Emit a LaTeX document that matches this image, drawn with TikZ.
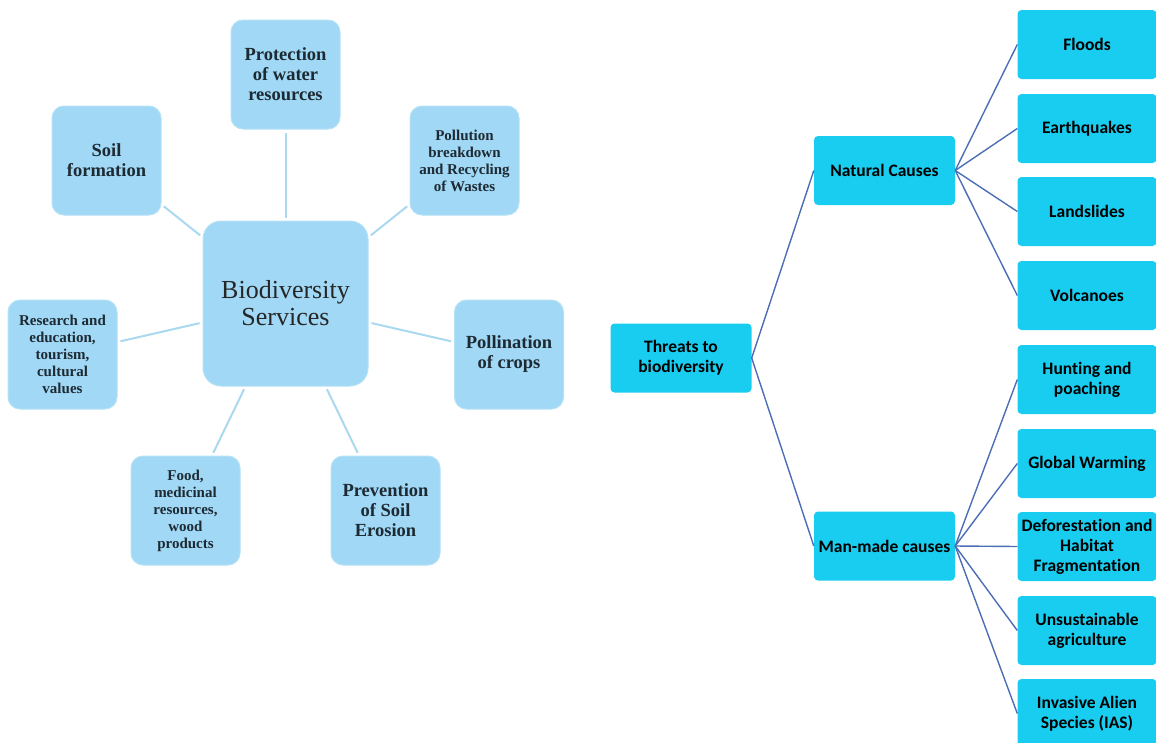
\documentclass[tikz,border=0pt]{standalone}
\usepackage{fontspec}
\setmainfont{Liberation Serif}
\newfontfamily\calibfont[Ligatures=NoCommon]{Carlito}
\definecolor{svcfill}{HTML}{A0D8F5}
\definecolor{svcedge}{HTML}{B6E2F7}
\definecolor{svclinecol}{HTML}{A9D8EF}
\definecolor{cyanfill}{HTML}{19CDF0}
\definecolor{twigblue}{HTML}{4D6DB5}
\definecolor{textdark}{HTML}{1E2A33}
\tikzset{
  svcbox/.style={rectangle, rounded corners=12pt, fill=svcfill, draw=svcedge, line width=1pt,
    minimum width=109pt, minimum height=109pt, inner sep=2pt, align=center, text=textdark,
    font=\bfseries\fontsize{18.5}{20}\selectfont},
  svcsmall/.style={svcbox, font=\bfseries\fontsize{15}{17}\selectfont},
  hubbox/.style={svcbox, minimum width=165pt, minimum height=165pt, rounded corners=18pt,
    text=black!85, font=\fontsize{26}{27}\selectfont},
  svcline/.style={draw=svclinecol, line width=2pt, shorten >=3pt, shorten <=3pt},
  causebox/.style={rectangle, rounded corners=4pt, fill=cyanfill, minimum width=141pt,
    minimum height=69pt, inner sep=1pt, align=center, text=black,
    font=\calibfont\bfseries\fontsize{17.5}{20}\selectfont},
  leafbox/.style={causebox, minimum width=139pt},
  twig/.style={draw=twigblue, line width=1.4pt}
}
\begin{document}
\begin{tikzpicture}[x=1pt,y=-1pt]
\useasboundingbox (0,0) rectangle (1156,742);
\clip (0,0) rectangle (1156,742);

% biodiversity services
\node[hubbox] (hub) at (285.5,303.5) {Biodiversity\\Services};
\node[svcbox] (water) at (285.5,74.5) {Protection\\of water\\resources};
\node[svcbox] (soil) at (106.5,160.5) {Soil\\formation};
\node[svcsmall] (waste) at (464.5,160.5) {Pollution\\breakdown\\and Recycling\\of Wastes};
\node[svcsmall] (research) at (62.5,354.5) {Research and\\education,\\tourism,\\cultural\\values};
\node[svcbox] (pollin) at (509,354.5) {Pollination\\of crops};
\node[svcsmall] (food) at (185.5,510.5) {Food,\\medicinal\\resources,\\wood\\products};
\node[svcbox] (erosion) at (385.5,510.5) {Prevention\\of Soil\\Erosion};
\draw[svcline] (hub) -- (water);
\draw[svcline] (hub) -- (soil);
\draw[svcline] (hub) -- (waste);
\draw[svcline] (hub) -- (research);
\draw[svcline] (hub) -- (pollin);
\draw[svcline] (hub) -- (food);
\draw[svcline] (hub) -- (erosion);

% threats to biodiversity
\node[causebox] (threats) at (681,358) {Threats to\\biodiversity};
\node[causebox] (natural) at (884.5,170.5) {Natural Causes};
\node[causebox] (manmade) at (884.5,546) {Man-made causes};
\node[leafbox] (floods) at (1087,44.5) {Floods};
\node[leafbox] (quakes) at (1087,128.5) {Earthquakes};
\node[leafbox] (slides) at (1087,211.5) {Landslides};
\node[leafbox] (volcano) at (1087,295.5) {Volcanoes};
\node[leafbox] (hunting) at (1087,379.5) {Hunting and\\poaching};
\node[leafbox] (warming) at (1087,463.5) {Global Warming};
\node[leafbox] (deforest) at (1087,546.5) {Deforestation and\\Habitat\\Fragmentation};
\node[leafbox] (agri) at (1087,630.5) {Unsustainable\\agriculture};
\node[leafbox] (invasive) at (1087,713.5) {Invasive Alien\\Species (IAS)};
\draw[twig] (threats.east) -- (natural.west);
\draw[twig] (threats.east) -- (manmade.west);
\draw[twig] (natural.east) -- (floods.west);
\draw[twig] (natural.east) -- (quakes.west);
\draw[twig] (natural.east) -- (slides.west);
\draw[twig] (natural.east) -- (volcano.west);
\draw[twig] (manmade.east) -- (hunting.west);
\draw[twig] (manmade.east) -- (warming.west);
\draw[twig] (manmade.east) -- (deforest.west);
\draw[twig] (manmade.east) -- (agri.west);
\draw[twig] (manmade.east) -- (invasive.west);
\end{tikzpicture}
\end{document}
